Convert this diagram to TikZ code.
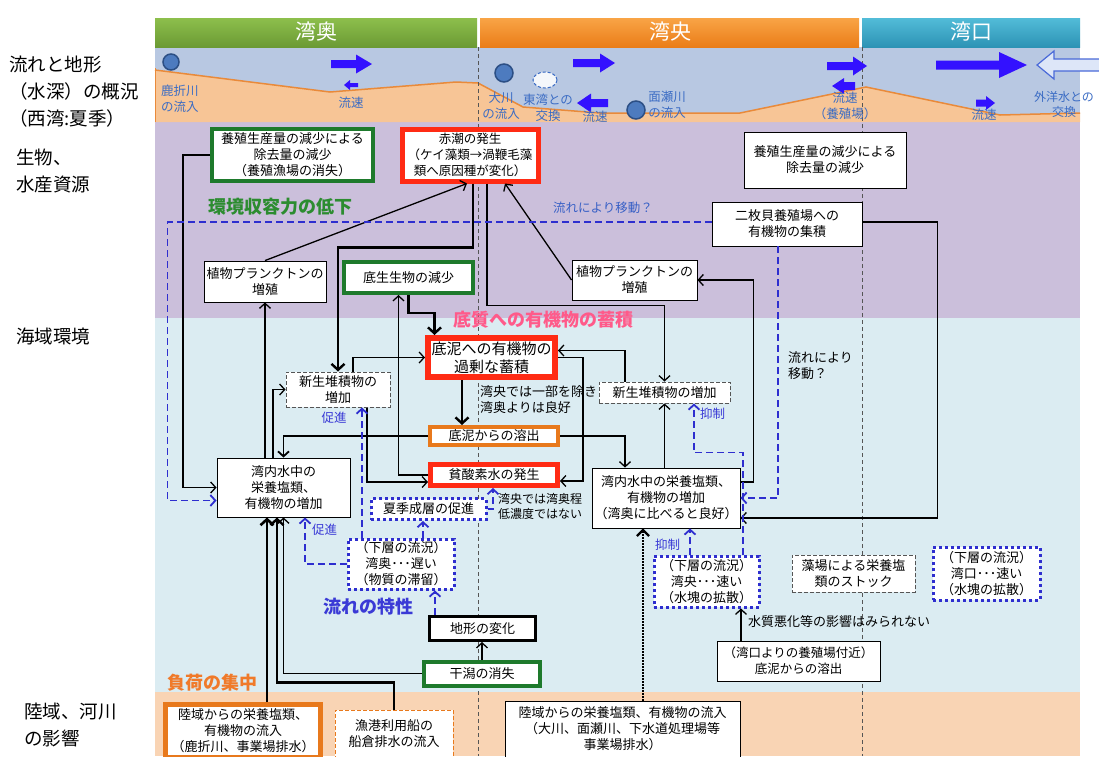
\documentclass[tikz,border=0pt]{standalone}
\usepackage{fontspec}
\setmainfont{Noto Sans CJK JP}
\usetikzlibrary{arrows.meta}
\definecolor{grnhA}{HTML}{8DBF4C}\definecolor{grnhB}{HTML}{6B9A34}
\definecolor{orghA}{HTML}{F9A446}\definecolor{orghB}{HTML}{EA7D18}
\definecolor{telhA}{HTML}{52BCD8}\definecolor{telhB}{HTML}{2D93B5}
\definecolor{stripc}{HTML}{B8C8E2}\definecolor{purp}{HTML}{CBBFDB}
\definecolor{ltb}{HTML}{DBECF2}\definecolor{peach}{HTML}{F9D4B4}
\definecolor{terr}{HTML}{F7C596}\definecolor{terrl}{HTML}{E98A3A}
\definecolor{barc}{HTML}{3311FF}\definecolor{labc}{HTML}{3B6CC4}
\definecolor{blud}{HTML}{2E2ECF}\definecolor{grnb}{HTML}{1E7A2C}
\definecolor{redb}{HTML}{FF2B14}\definecolor{orgb}{HTML}{E8791C}
\definecolor{gryd}{HTML}{555555}\definecolor{grnt}{HTML}{2C8C30}
\definecolor{pinkt}{HTML}{FF5A8A}\definecolor{blt}{HTML}{3A3AD6}
\definecolor{orgt}{HTML}{F07A2A}\definecolor{circf}{HTML}{4D7BBF}
\definecolor{circd}{HTML}{2C4F85}\definecolor{hollf}{HTML}{DDE6F8}
\definecolor{holld}{HTML}{4A6AD8}
\newcommand\fsz[2]{\fontsize{#1}{#2}\selectfont}
\newcommand\barw[6]{\fill[barc] (#1,{#3-#4/2}) -- ({#2-#6},{#3-#4/2}) -- ({#2-#6},{#3-#5/2}) -- (#2,#3) -- ({#2-#6},{#3+#5/2}) -- ({#2-#6},{#3+#4/2}) -- (#1,{#3+#4/2}) -- cycle;}
\tikzset{
 bx/.style={draw=black, line width=0.9pt, fill=white, align=center, inner sep=1pt, font=\fsz{13}{16}},
 gbx/.style={bx, draw=grnb, line width=4pt},
 rbx/.style={bx, draw=redb, line width=5pt},
 obx/.style={bx, draw=orgb, line width=4pt},
 kbx/.style={bx, line width=3pt},
 dbx/.style={bx, draw=gryd, dash pattern=on 4pt off 2pt, line width=1pt},
 odbx/.style={bx, draw=orgb, dash pattern=on 4pt off 2pt, line width=1pt},
 bdbx/.style={bx, draw=blud, line width=3pt, dash pattern=on 3pt off 3pt},
 con/.style={draw=black, line width=1.3pt, -{Straight Barb[length=5pt,width=11pt]}},
 thk/.style={line width=2.4pt, -{Straight Barb[length=6pt,width=13pt]}},
 bdash/.style={draw=blud, line width=1.8pt, dash pattern=on 7pt off 4pt, -{Straight Barb[length=5pt,width=11pt]}},
 dotarr/.style={draw=black, line width=2.2pt, dash pattern=on 1.5pt off 1.5pt, -{Straight Barb[length=6pt,width=12pt]}},
 slab/.style={text=labc, font=\fsz{12.5}{16}, align=center, inner sep=0pt},
 blab/.style={text=blt, font=\fsz{12.5}{15}, inner sep=0pt},
 klab/.style={text=black, font=\fsz{13}{16}, align=left, inner sep=0pt},
 big/.style={font=\bfseries\fsz{18}{20}, inner sep=0pt},
 side/.style={font=\fsz{18.5}{27}, align=left, anchor=west, inner sep=0pt},
 head/.style={text=white, font=\fsz{21}{24}},
 circ/.style={fill=circf, draw=circd, line width=1.5pt}
}
\begin{document}
\begin{tikzpicture}[x=1pt,y=-1pt]
\useasboundingbox (0,0) rectangle (1099,756);
\fill[white] (0,0) rectangle (1099,756);
% regions
\fill[stripc] (155,47) rectangle (1080,122);
\fill[purp] (155,122) rectangle (1080,318);
\fill[ltb] (155,318) rectangle (1080,692);
\fill[peach] (155,692) rectangle (1080,756);
% headers
\shade[top color=grnhA, bottom color=grnhB] (155,18) rectangle (477,47);
\shade[top color=orghA, bottom color=orghB] (480,18) rectangle (859,47);
\shade[top color=telhA, bottom color=telhB] (862,18) rectangle (1080,47);
\node[head] (h1) at (316,32) {湾奥};
\node[head] (h2) at (670,32) {湾央};
\node[head] (h3) at (971,32) {湾口};
% terrain
\fill[terr] (155,70) -- (330,92) -- (456,82) -- (478,83) -- (523,107) -- (600,113) -- (740,113) -- (866,87) -- (1000,115) -- (1080,113) -- (1080,122) -- (155,122) -- cycle;
\draw[terrl, line width=1.5pt] (155,70) -- (330,92) -- (456,82) -- (478,83) -- (523,107) -- (600,113) -- (740,113) -- (866,87) -- (1000,115) -- (1080,113);
\draw[terrl, line width=1pt] (155,68) -- (155,122);
% bay dividers
\draw[gryd, line width=0.8pt, dash pattern=on 4pt off 3pt] (478.5,47) -- (478.5,756);
\draw[gryd, line width=0.8pt, dash pattern=on 4pt off 3pt] (862,47) -- (862,756);
% flow arrows
\barw{331}{372}{64}{8}{19}{16}
\barw{358}{344}{85}{4}{10}{-6}
\barw{573}{615}{63}{8}{19}{15}
\barw{608}{577}{103}{8}{19}{-14}
\barw{827}{867}{66}{8}{19}{14}
\barw{855}{832}{86}{8}{16}{-12}
\barw{936}{1027}{65}{9}{26}{28}
\barw{976}{995}{103}{7}{14}{9}
\filldraw[fill=hollf, draw=holld, line width=1.2pt] (1037,65) -- (1054,51) -- (1054,59) -- (1104,59) -- (1104,51) -- (1121,65) -- (1104,79) -- (1104,71) -- (1054,71) -- (1054,79) -- cycle;
% rivers
\fill[circ] (171,62) circle (8);
\fill[circ] (504,73) circle (9);
\fill[circ] (636,110) circle (9);
\filldraw[fill=white!85!stripc, draw=labc, line width=1pt, dash pattern=on 3pt off 2pt] (545,80) ellipse (12 and 8);
% strip labels
\node[slab, align=left, anchor=west] (l1) at (161,99) {鹿折川\\の流入};
\node[slab] (l2) at (351,103) {流速};
\node[slab] (l3) at (501,106) {大川\\の流入};
\node[slab] (l4) at (548,108) {東湾との\\交換};
\node[slab] (l5) at (595,117) {流速};
\node[slab] (l6) at (667,105) {面瀬川\\の流入};
\node[slab] (l7) at (845,106) {流速\\（養殖場）};
\node[slab] (l8) at (984,115) {流速};
\node[slab, font=\fsz{12}{15}] (l9) at (1064,104) {外洋水との\\交換};
% side labels
\node[side] (s1) at (9,92) {流れと地形\\（水深）の概況\\（西湾:夏季）};
\node[side] (s2) at (16,171) {生物、\\水産資源};
\node[side] (s3) at (16,336) {海域環境};
\node[side] (s4) at (24,725) {陸域、河川\\の影響};
% section labels
\node[big, text=grnt, anchor=west] (t1) at (208,207) {環境収容力の低下};
\node[big, text=pinkt, anchor=west] (t2) at (453,320) {底質への有機物の蓄積};
\node[big, text=blt] (t3) at (368,607) {流れの特性};
\node[big, text=orgt] (t4) at (212,683) {負荷の集中};
% boxes
\node[gbx, minimum width=161pt, minimum height=52pt] (A) at (292.5,155) {養殖生産量の減少による\\除去量の減少\\（養殖漁場の消失）};
\node[rbx, font=\fsz{12.5}{16}, minimum width=136pt, minimum height=52pt] (B) at (470,155) {赤潮の発生\\（ケイ藻類→渦鞭毛藻\\類へ原因種が変化）};
\node[bx, minimum width=122pt, minimum height=41pt] (C) at (265,281.5) {植物プランクトンの\\増殖};
\node[gbx, minimum width=129pt, minimum height=31pt] (D) at (408.5,277.5) {底生生物の減少};
\node[bx, minimum width=162pt, minimum height=56pt] (RT) at (825,160) {養殖生産量の減少による\\除去量の減少};
\node[bx, minimum width=150pt, minimum height=44pt] (NK) at (787,224) {二枚貝養殖場への\\有機物の集積};
\node[bx, minimum width=125pt, minimum height=40pt] (PR) at (634.5,280) {植物プランクトンの\\増殖};
\node[dbx, minimum width=104pt, minimum height=35pt] (SL) at (338,389.5) {新生堆積物の\\増加};
\node[rbx, line width=6pt, font=\fsz{15}{18}, minimum width=127pt, minimum height=39pt] (TD) at (491.5,357.5) {底泥への有機物の\\過剰な蓄積};
\node[obx, minimum width=128pt, minimum height=18pt] (YO) at (494,436) {底泥からの溶出};
\node[rbx, minimum width=127pt, minimum height=21pt] (HS) at (494,475) {貧酸素水の発生};
\node[dbx, minimum width=131pt, minimum height=21pt] (SR) at (664.5,392.5) {新生堆積物の増加};
\node[bx, minimum width=133pt, minimum height=59pt] (WL) at (283.5,487.5) {湾内水中の\\栄養塩類、\\有機物の増加};
\node[bx, minimum width=148pt, minimum height=60pt] (WR) at (666,498) {湾内水中の栄養塩類、\\有機物の増加\\（湾奥に比べると良好）};
\node[bdbx, minimum width=115pt, minimum height=21pt] (KS) at (428.5,509) {夏季成層の促進};
\node[bdbx, minimum width=106pt, minimum height=50pt] (KL) at (401,564) {（下層の流況）\\湾奥･･･遅い\\（物質の滞留）};
\node[bdbx, minimum width=105pt, minimum height=51pt] (KC) at (706.5,581.5) {（下層の流況）\\湾央･･･速い\\（水塊の拡散）};
\node[bdbx, minimum width=107pt, minimum height=53pt] (KM) at (986.5,573.5) {（下層の流況）\\湾口･･･速い\\（水塊の拡散）};
\node[dbx, minimum width=123pt, minimum height=37pt] (MB) at (853.5,573.5) {藻場による栄養塩\\類のストック};
\node[bx, font=\fsz{12.5}{16}, minimum width=163pt, minimum height=40pt] (WK) at (798.5,661) {（湾口よりの養殖場付近）\\底泥からの溶出};
\node[kbx, minimum width=106pt, minimum height=24pt] (CH) at (482.5,628.5) {地形の変化};
\node[gbx, minimum width=116pt, minimum height=24pt] (HG) at (482,673.5) {干潟の消失};
\node[obx, line width=5pt, minimum width=155pt, minimum height=53pt] (RL) at (243,731) {陸域からの栄養塩類、\\有機物の流入\\（鹿折川、事業場排水）};
\node[odbx, minimum width=118pt, minimum height=48pt] (GK) at (394,734) {漁港利用船の\\船倉排水の流入};
\node[bx, minimum width=235pt, minimum height=56pt] (RR) at (622.5,729) {陸域からの栄養塩類、有機物の流入\\（大川、面瀬川、下水道処理場等\\事業場排水）};
% connectors
\draw[con] (C.north) -- ([xshift=-3pt]B.south);
\draw[con] (PR.west) -- ([xshift=35pt]B.south);
\draw[con,thk] ([xshift=3pt]B.south) -- ++(0,64) -| (SL.north);
\draw[con] ([xshift=17pt]B.south) -- ++(0,122) -| (SR.north);
\draw[con,thk] (D.south) -- ++(0,18) -| ([xshift=-57pt]TD.north);
\draw[con] (HS.west) -| ([xshift=-10pt]D.south);
\draw[con] ([xshift=15pt]SL.north) |- (TD.west);
\draw[con] ([xshift=29pt]SL.south) |- ([yshift=-7pt]HS.west);
\draw[con] (C.south |- WL.north) -- (C.south);
\draw[con] ([xshift=-10.5pt]WL.north) |- (SL.west);
\draw[con,line width=1.8pt] (YO.west) -| (WL.north);
\draw[con] (A.west) -- ++(-27,0) |- (WL.west);
\draw[bdash] ([yshift=2pt]NK.west) -- ++(-544,0) |- ([yshift=-13pt]WL.west);
\node[slab, text=labc!80!blud, anchor=west] (fl1) at (553,208) {流れにより移動？};
\draw[con,thk] ([xshift=-29.5pt]TD.south) -- ([xshift=-32pt]YO.north);
\draw[con] (YO.east) -| ([xshift=-41pt]WR.north);
\draw[con] ([xshift=-39.5pt]SR.north) |- ([yshift=7pt]TD.east);
\draw[con] (TD.east) -- ++(25,0) |- ([yshift=-6pt]HS.east);
\draw[con] (SR.south |- WR.north) -- (SR.south);
\draw[con] ([yshift=16pt]WR.east) -- ++(13,0) |- (PR.east);
\draw[con] ([yshift=2pt]NK.east) -- ++(75,0) |- ([yshift=-20pt]WR.east);
\draw[bdash] ([xshift=-9pt]NK.south) |- (WR.east);
\node[klab, anchor=west] (fl2) at (788,366) {流れにより\\移動？};
\draw[dotarr] ([xshift=20.5pt]RR.north) -- ([xshift=-23pt]WR.south);
\draw[bdash] ([xshift=-16.5pt]KC.north) -- ([xshift=24pt]WR.south);
\node[blab, anchor=west] (yk1) at (655,545) {抑制};
\draw[bdash] ([xshift=36.5pt]KC.north) -- ++(0,-102) -| ([xshift=29.5pt]SR.south);
\node[blab, anchor=west] (yk2) at (700,414) {抑制};
\draw[con] ([xshift=-57.5pt]WK.north) -- ([xshift=34.5pt]KC.south);
\node[klab, anchor=west] (nt1) at (748,622) {水質悪化等の影響はみられない};
\draw[bdash] ([xshift=-39pt]KL.north) -- ([xshift=24pt]SL.south);
\node[blab] (sk1) at (334,418) {促進};
\draw[bdash] (KL.west) -| ([xshift=21.5pt]WL.south);
\node[blab, anchor=west] (sk2) at (312,530) {促進};
\draw[bdash] ([xshift=22pt]KL.north) -- ([xshift=-5.5pt]KS.south);
\draw[bdash] (KS.east) -| ([xshift=-1pt]HS.south);
\node[klab, font=\fsz{12}{15}, align=center] (nt2) at (540,506) {湾央では湾奥程\\低濃度ではない};
\node[klab, anchor=west] (nt3) at (480,400) {湾央では一部を除き\\湾奥よりは良好};
\draw[bdash] ([xshift=-47.5pt]CH.north) -- ([xshift=34pt]KL.south);
\draw[con] (HG.north) -- (HG.north |- CH.south);
\draw[con] (HG.west) -| (WL.south);
\draw[con,thk] (GK.north) -- ++(0,-27) -| ([xshift=-6.5pt]WL.south);
\draw[con,thk,line width=2.6pt] ([xshift=24pt]RL.north) -- ([xshift=-16.5pt]WL.south);
\end{tikzpicture}
\end{document}
